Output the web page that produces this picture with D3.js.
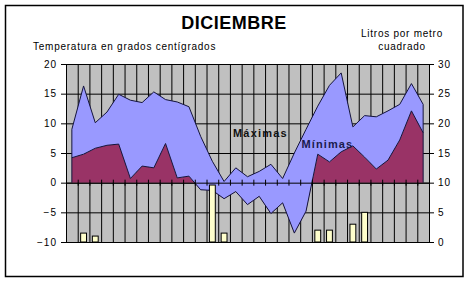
<!DOCTYPE html>
<html>
<head>
<meta charset="utf-8">
<script src="https://cdnjs.cloudflare.com/ajax/libs/d3/7.8.5/d3.min.js"></script>
<style>
  body { margin: 0; background: #fff; }
  svg text { font-family: Arial, "Liberation Sans", sans-serif; fill: #000; }
</style>
</head>
<body>
<svg width="469" height="282"></svg>
<script>
// dias del mes
var days = d3.range(1, 32);
// temperaturas maximas y minimas (grados)
var maximas = [9.0, 16.3, 10.1, 11.9, 14.9, 13.9, 13.5, 15.3, 14.0, 13.6, 12.8, 7.8, 3.6, 0.2, 2.5, 1.0, 1.9, 3.1, 0.7, 5.0, 9.0, 12.9, 16.4, 18.5, 9.4, 11.3, 11.1, 12.1, 13.2, 16.7, 13.2];
var minimas = [4.2, 4.8, 5.8, 6.3, 6.5, 0.7, 2.8, 2.5, 6.6, 0.8, 1.1, -1.2, -1.3, -2.7, -1.5, -3.7, -2.3, -5.2, -3.4, -8.5, -4.8, 4.8, 3.5, 5.2, 6.2, 4.3, 2.3, 3.8, 7.2, 12.1, 8.4];
// lluvia (litros por metro cuadrado)
var lluvia = [0, 1.5, 1.0, 0, 0, 0, 0, 0, 0, 0, 0, 0, 9.6, 1.5, 0, 0, 0, 0, 0, 0, 0, 2.0, 2.0, 0, 3.0, 5.0, 0, 0, 0, 0, 0];
var tempTicks = [-10, -5, 0, 5, 10, 15, 20];
var rainTicks = [0, 5, 10, 15, 20, 25, 30];

var svg = d3.select("svg");
var pLeft = 66, pRight = 429, pTop = 64, pBottom = 242;

var x = d3.scaleBand().domain(days).range([pLeft, pRight]).paddingInner(0).paddingOuter(0);
var xLin = d3.scaleLinear().domain([0, 31]).range([pLeft, pRight]);
var yT = d3.scaleLinear().domain([-10, 20]).range([pBottom, pTop]);
var yR = d3.scaleLinear().domain([0, 30]).range([pBottom, pTop]);

var data = days.map(function(d, i) {
  return {day: d, max: maximas[i], min: minimas[i], rain: lluvia[i]};
});
function cx(d) { return x(d.day) + x.bandwidth() / 2; }

// marco exterior
svg.append("rect")
  .attr("x", 5.5).attr("y", 5.5)
  .attr("width", 457.5).attr("height", 271)
  .attr("fill", "#fff").attr("stroke", "#000").attr("stroke-width", 1.5);

// fondo del grafico
svg.append("rect")
  .attr("x", pLeft).attr("y", pTop)
  .attr("width", pRight - pLeft).attr("height", pBottom - pTop)
  .attr("fill", "#c0c0c0");

// rejilla
svg.append("g")
  .attr("transform", "translate(0," + pBottom + ")")
  .call(d3.axisBottom(xLin).tickValues(d3.range(0, 32)).tickSize(-(pBottom - pTop)).tickFormat(""))
  .call(function(g) { g.select(".domain").remove(); })
  .selectAll("line").attr("stroke", "#000");

svg.append("g")
  .attr("transform", "translate(" + pLeft + ",0)")
  .call(d3.axisLeft(yT).tickValues(tempTicks).tickSize(-(pRight - pLeft)).tickFormat(""))
  .call(function(g) { g.select(".domain").remove(); })
  .selectAll("line").attr("stroke", "#000");

// minimas (de 0 a la minima)
var areaMin = d3.area()
  .x(cx)
  .y0(yT(0))
  .y1(function(d) { return yT(d.min); });

// maximas (banda entre minima y maxima)
var areaMax = d3.area()
  .x(cx)
  .y0(function(d) { return yT(d.min); })
  .y1(function(d) { return yT(d.max); });

svg.append("path")
  .datum(data)
  .attr("d", areaMin)
  .attr("fill", "#993366");

svg.append("path")
  .datum(data)
  .attr("d", areaMax)
  .attr("fill", "#9999ff");

svg.append("path")
  .datum(data)
  .attr("d", d3.line().x(cx).y(function(d) { return yT(d.max); }))
  .attr("fill", "none").attr("stroke", "#14143c").attr("stroke-width", 1);

svg.append("path")
  .datum(data)
  .attr("d", d3.line().x(cx).y(function(d) { return yT(d.min); }))
  .attr("fill", "none").attr("stroke", "#14143c").attr("stroke-width", 1);

// lineas verticales de los extremos
svg.append("line")
  .attr("x1", cx(data[0])).attr("x2", cx(data[0]))
  .attr("y1", yT(0)).attr("y2", yT(data[0].max))
  .attr("stroke", "#14143c");
svg.append("line")
  .attr("x1", cx(data[30])).attr("x2", cx(data[30]))
  .attr("y1", yT(0)).attr("y2", yT(data[30].max))
  .attr("stroke", "#14143c");

// eje de categorias en el cero
var zero = svg.append("g")
  .attr("transform", "translate(0," + yT(0) + ")")
  .call(d3.axisBottom(xLin).tickValues(d3.range(0, 32)).tickSizeOuter(0).tickFormat(""));
zero.selectAll(".tick line").attr("y1", -3).attr("y2", 3).attr("stroke", "#000");
zero.select(".domain").attr("stroke", "#000");

// lluvia
var bw = x.bandwidth() * 0.5;
svg.append("g")
  .selectAll("rect")
  .data(data.filter(function(d) { return d.rain > 0; }))
  .enter().append("rect")
    .attr("x", function(d) { return cx(d) - bw / 2; })
    .attr("y", function(d) { return yR(d.rain); })
    .attr("width", bw)
    .attr("height", function(d) { return yR(0) - yR(d.rain); })
    .attr("fill", "#ffffcc")
    .attr("stroke", "#000")
    .attr("stroke-width", 1);

// ejes
var axL = svg.append("g")
  .attr("transform", "translate(" + pLeft + ",0)")
  .call(d3.axisLeft(yT).tickValues(tempTicks).tickSize(5).tickPadding(4));
axL.selectAll("text").style("font-size", "10px").style("letter-spacing", "1px");
axL.selectAll("line, path").attr("stroke", "#000");

var axR = svg.append("g")
  .attr("transform", "translate(" + pRight + ",0)")
  .call(d3.axisRight(yR).tickValues(rainTicks).tickSize(5).tickPadding(4));
axR.selectAll("text").style("font-size", "10px").style("letter-spacing", "1px");
axR.selectAll("line, path").attr("stroke", "#000");

// textos
svg.append("text")
  .attr("x", 234).attr("y", 29)
  .attr("text-anchor", "middle")
  .style("font-size", "18px").style("font-weight", "bold").style("letter-spacing", "0.5px")
  .text("DICIEMBRE");

svg.append("text")
  .attr("x", 33).attr("y", 50)
  .style("font-size", "10px").style("letter-spacing", "0.75px")
  .text("Temperatura en grados centígrados");

svg.append("text")
  .attr("x", 402).attr("y", 37)
  .attr("text-anchor", "middle")
  .style("font-size", "10px").style("letter-spacing", "0.75px")
  .text("Litros por metro");

svg.append("text")
  .attr("x", 402).attr("y", 50)
  .attr("text-anchor", "middle")
  .style("font-size", "10px").style("letter-spacing", "0.75px")
  .text("cuadrado");

svg.append("text")
  .attr("x", 233).attr("y", 137)
  .style("font-size", "11px").style("font-weight", "bold").style("letter-spacing", "1.2px")
  .style("fill", "#111")
  .text("Máximas");

svg.append("text")
  .attr("x", 301.5).attr("y", 148)
  .style("font-size", "11px").style("font-weight", "bold").style("letter-spacing", "1.1px")
  .style("fill", "#1a1a4d")
  .text("Mínimas");
</script>
</body>
</html>
